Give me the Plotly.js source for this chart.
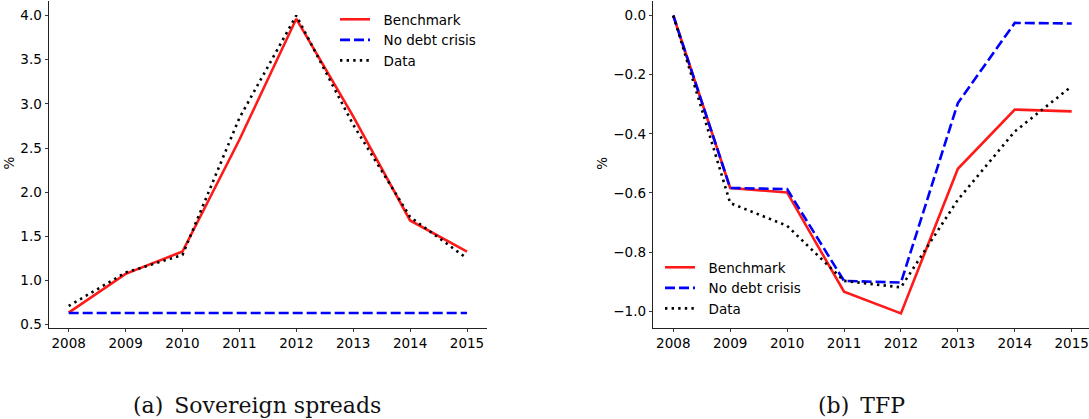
<!DOCTYPE html>
<html>
<head>
<meta charset="utf-8">
<script src="https://cdn.plot.ly/plotly-3.0.1.min.js"></script>
<style>
html,body{margin:0;padding:0;background:#fff;}
#chart{width:1089px;height:419px;}
</style>
</head>
<body>
<div id="chart"></div>
<script>
// ---- data ----
const years = [2008, 2009, 2010, 2011, 2012, 2013, 2014, 2015];
const seriesNames = ["Benchmark", "No debt crisis", "Data"];

// (a) Sovereign spreads, %
const spreadsBenchmark = [0.636, 1.075, 1.328, 2.594, 3.963, 2.858, 1.68, 1.328];
const spreadsNoCrisis  = [0.632, 0.632, 0.632, 0.632, 0.632, 0.632, 0.632, 0.632];
const spreadsData      = [0.712, 1.09, 1.29, 2.84, 4.0, 2.764, 1.72, 1.25];

// (b) TFP, %
const tfpBenchmark = [0.0, -0.583, -0.598, -0.934, -1.007, -0.518, -0.318, -0.324];
const tfpNoCrisis  = [0.0, -0.583, -0.587, -0.897, -0.903, -0.296, -0.025, -0.027];
const tfpData      = [0.0, -0.634, -0.711, -0.897, -0.919, -0.623, -0.392, -0.239];

const captions = ["(a)\u2002Sovereign spreads", "(b)\u2002TFP"];
const yLabel = "%";
const spreadTicks = [0.5, 1.0, 1.5, 2.0, 2.5, 3.0, 3.5, 4.0];
const tfpTicks = [0.0, -0.2, -0.4, -0.6, -0.8, -1.0];

// ---- styles ----
const styles = [
  {color: "#ff1a1a", width: 2.6, dash: "solid"},
  {color: "#0000ff", width: 2.6, dash: "10px,4px"},
  {color: "#000000", width: 2.6, dash: "2.4px,4.2px"}
];

const pad = "\u00a0\u00a0";

function mk(x, y, i, xa, ya, leg) {
  return {
    x: x, y: y, type: "scatter", mode: "lines",
    name: pad + seriesNames[i], xaxis: xa, yaxis: ya, legend: leg,
    line: {color: styles[i].color, width: styles[i].width, dash: styles[i].dash},
    hoverinfo: "skip"
  };
}

const traces = [
  mk(years, spreadsBenchmark, 0, "x", "y", "legend"),
  mk(years, spreadsNoCrisis, 1, "x", "y", "legend"),
  mk(years, spreadsData, 2, "x", "y", "legend"),
  mk(years, tfpBenchmark, 0, "x2", "y2", "legend2"),
  mk(years, tfpNoCrisis, 1, "x2", "y2", "legend2"),
  mk(years, tfpData, 2, "x2", "y2", "legend2")
];

const font = {family: "DejaVu Sans", size: 13.5, color: "#000"};

const axisCommon = {
  showgrid: false, zeroline: false, showline: true, linecolor: "#222", linewidth: 1,
  ticks: "outside", ticklen: 3.5, tickwidth: 0.9, tickcolor: "#222",
  tickfont: font, mirror: false, fixedrange: true
};

const W = 1089, H = 419;
const yDom = [(H - 327.7) / H, (H - 0.5) / H];

const layout = {
  width: W, height: H,
  margin: {l: 0, r: 0, t: 0, b: 0, pad: 0},
  paper_bgcolor: "#fff", plot_bgcolor: "#fff",
  font: font,
  showlegend: true,
  xaxis: Object.assign({}, axisCommon, {
    domain: [49 / W, 486.7 / W], range: [2007.654, 2015.346],
    tickvals: years, ticktext: years.map(String), anchor: "y"
  }),
  yaxis: Object.assign({}, axisCommon, {
    domain: yDom, range: [0.466, 4.170],
    tickvals: spreadTicks, ticktext: spreadTicks.map(v => v.toFixed(1)), anchor: "x"
  }),
  xaxis2: Object.assign({}, axisCommon, {
    domain: [653.3 / W, 1], range: [2007.649, 2015.304],
    tickvals: years, ticktext: years.map(String), anchor: "y2"
  }),
  yaxis2: Object.assign({}, axisCommon, {
    domain: yDom, range: [-1.0555, 0.0508],
    tickvals: tfpTicks, ticktext: tfpTicks.map(v => (v < 0 ? "\u2212" : "") + Math.abs(v).toFixed(1)), anchor: "x2"
  }),
  legend: {
    x: 335 / W, y: 1 - 4 / H, xanchor: "left", yanchor: "top",
    bgcolor: "rgba(255,255,255,0)", borderwidth: 0, font: font,
    tracegroupgap: 0
  },
  legend2: {
    x: 660 / W, y: 1 - 252 / H, xanchor: "left", yanchor: "top",
    bgcolor: "rgba(255,255,255,0)", borderwidth: 0, font: font,
    tracegroupgap: 0
  },
  annotations: [
    {text: yLabel, xref: "paper", yref: "paper", x: 8.5 / W, y: 1 - 163 / H,
     showarrow: false, textangle: -90, font: font, xanchor: "center", yanchor: "middle"},
    {text: yLabel, xref: "paper", yref: "paper", x: 601.7 / W, y: 1 - 163 / H,
     showarrow: false, textangle: -90, font: font, xanchor: "center", yanchor: "middle"},
    {text: captions[0], xref: "paper", yref: "paper", x: 256.5 / W, y: 1 - 405 / H,
     showarrow: false, font: {family: "DejaVu Serif", size: 22, color: "#111"},
     xanchor: "center", yanchor: "middle"},
    {text: captions[1], xref: "paper", yref: "paper", x: 861 / W, y: 1 - 405 / H,
     showarrow: false, font: {family: "DejaVu Serif", size: 22, color: "#111"},
     xanchor: "center", yanchor: "middle"}
  ]
};

Plotly.newPlot("chart", traces, layout, {staticPlot: true, displayModeBar: false});
</script>
</body>
</html>
